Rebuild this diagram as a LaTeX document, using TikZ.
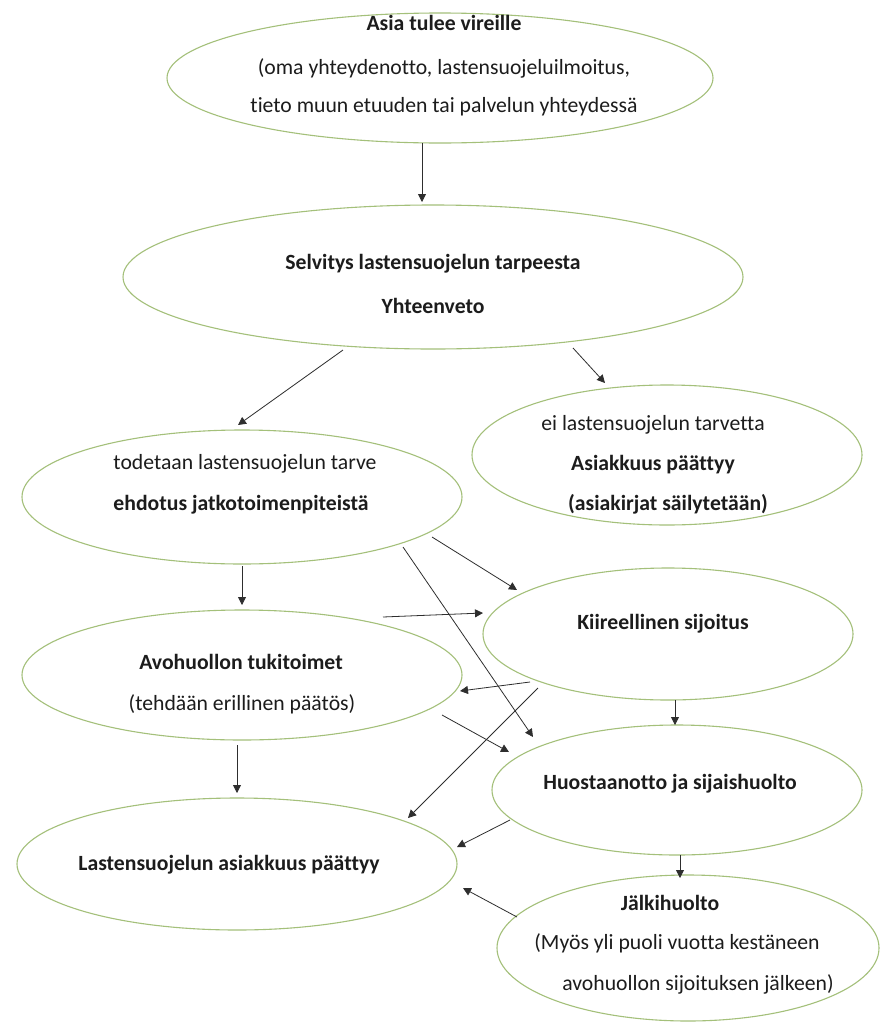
\documentclass[tikz,border=0pt]{standalone}
\usepackage{fontspec}
\setmainfont{Carlito}[Ligatures=NoCommon]
\usetikzlibrary{shapes.geometric,arrows.meta,calc}
\definecolor{elline}{HTML}{A4C07A}
\definecolor{txt}{HTML}{1C1C1C}
\definecolor{arr}{HTML}{2E2E2E}
\begin{document}
\begin{tikzpicture}[x=1pt,y=-1pt,
  oval/.style={draw=elline, line width=1.1pt, ellipse, inner sep=0pt, outer sep=0pt},
  lbl/.style={text=txt, font=\fontsize{21.7}{26}\selectfont, anchor=base, inner sep=0pt},
  blbl/.style={lbl, font=\fontsize{21.7}{26}\selectfont\bfseries},
  conn/.style={draw=arr, line width=0.8pt, -{Triangle[length=8pt,width=8pt]}}]
\useasboundingbox (0,0) rectangle (880,1023);
\fill[white] (0,0) rectangle (880,1023);

% ellipses
\node[oval, minimum width=546pt, minimum height=130pt] (E1) at (440,78) {};
\node[oval, minimum width=620pt, minimum height=144pt] (E2) at (433,277) {};
\node[oval, minimum width=440pt, minimum height=134pt] (E3) at (242,497) {};
\node[oval, minimum width=390pt, minimum height=140pt] (E4) at (667,455) {};
\node[oval, minimum width=370pt, minimum height=132pt] (E5) at (668,634) {};
\node[oval, minimum width=440pt, minimum height=130pt] (E6) at (242,675) {};
\node[oval, minimum width=370pt, minimum height=130pt] (E7) at (677,790) {};
\node[oval, minimum width=440pt, minimum height=132pt] (E8) at (237,864) {};
\node[oval, minimum width=382pt, minimum height=146pt] (E9) at (688,948) {};

% texts
\node[blbl] (T1a) at (444,30) {Asia tulee vireille};
\node[lbl]  (T1b) at (444,74) {(oma yhteydenotto, lastensuojeluilmoitus,};
\node[lbl]  (T1c) at (444,112) {tieto muun etuuden tai palvelun yhteydessä};

\node[blbl] (T2a) at (433,269) {Selvitys lastensuojelun tarpeesta};
\node[blbl] (T2b) at (433,313) {Yhteenveto};

\node[lbl]  (T3a) at (245,469) {todetaan lastensuojelun tarve};
\node[blbl] (T3b) at (241,510) {ehdotus jatkotoimenpiteistä};

\node[lbl]  (T4a) at (653,430) {ei lastensuojelun tarvetta};
\node[blbl] (T4b) at (653,470) {Asiakkuus päättyy};
\node[blbl] (T4c) at (668,510) {(asiakirjat säilytetään)};

\node[blbl] (T5) at (663,629) {Kiireellinen sijoitus};

\node[blbl] (T6a) at (241,669) {Avohuollon tukitoimet};
\node[lbl]  (T6b) at (242,710) {(tehdään erillinen päätös)};

\node[blbl] (T7) at (670,789) {Huostaanotto ja sijaishuolto};

\node[blbl] (T8) at (229,870) {Lastensuojelun asiakkuus päättyy};

\node[blbl] (T9a) at (670,910) {Jälkihuolto};
\node[lbl]  (T9b) at (677,949) {(Myös yli puoli vuotta kestäneen};
\node[lbl]  (T9c) at (698,990) {avohuollon sijoituksen jälkeen)};

% connectors
\draw[conn] ($(E1.center)+(-18,65)$) -- ($(E2.center)+(-11,-75)$);
\draw[conn] ($(E2.center)+(-90,73)$) -- ($(E3.center)+(-4,-72)$);
\draw[conn] ($(E2.center)+(140,71)$) -- ($(E4.center)+(-62,-72)$);
\draw[conn] ($(E3.center)+(0,69)$) -- ($(E6.center)+(0,-70)$);
\draw[conn] ($(E3.center)+(190,40)$) -- ($(E5.center)+(-151,-44)$);
\draw[conn] ($(E3.center)+(161,50)$) -- ($(E7.center)+(-144,-53)$);
\draw[conn] ($(E6.center)+(141,-58)$) -- ($(E5.center)+(-185,-21)$);
\draw[conn] ($(E5.center)+(-138,48)$) -- ($(E6.center)+(218,16)$);
\draw[conn] ($(E5.center)+(-130,54)$) -- ($(E8.center)+(171,-46)$);
\draw[conn] ($(E6.center)+(200,40)$) -- ($(E7.center)+(-168,-38)$);
\draw[conn] ($(E6.center)+(-5,70)$) -- ($(E8.center)+(0,-71)$);
\draw[conn] ($(E5.center)+(7,66)$) -- ($(E7.center)+(-2,-65)$);
\draw[conn] ($(E7.center)+(-167,30)$) -- ($(E8.center)+(220,-17)$);
\draw[conn] ($(E7.center)+(3,65)$) -- ($(E9.center)+(-8,-70)$);
\draw[conn] ($(E9.center)+(-171,-31)$) -- ($(E8.center)+(226,24)$);
\end{tikzpicture}
\end{document}
